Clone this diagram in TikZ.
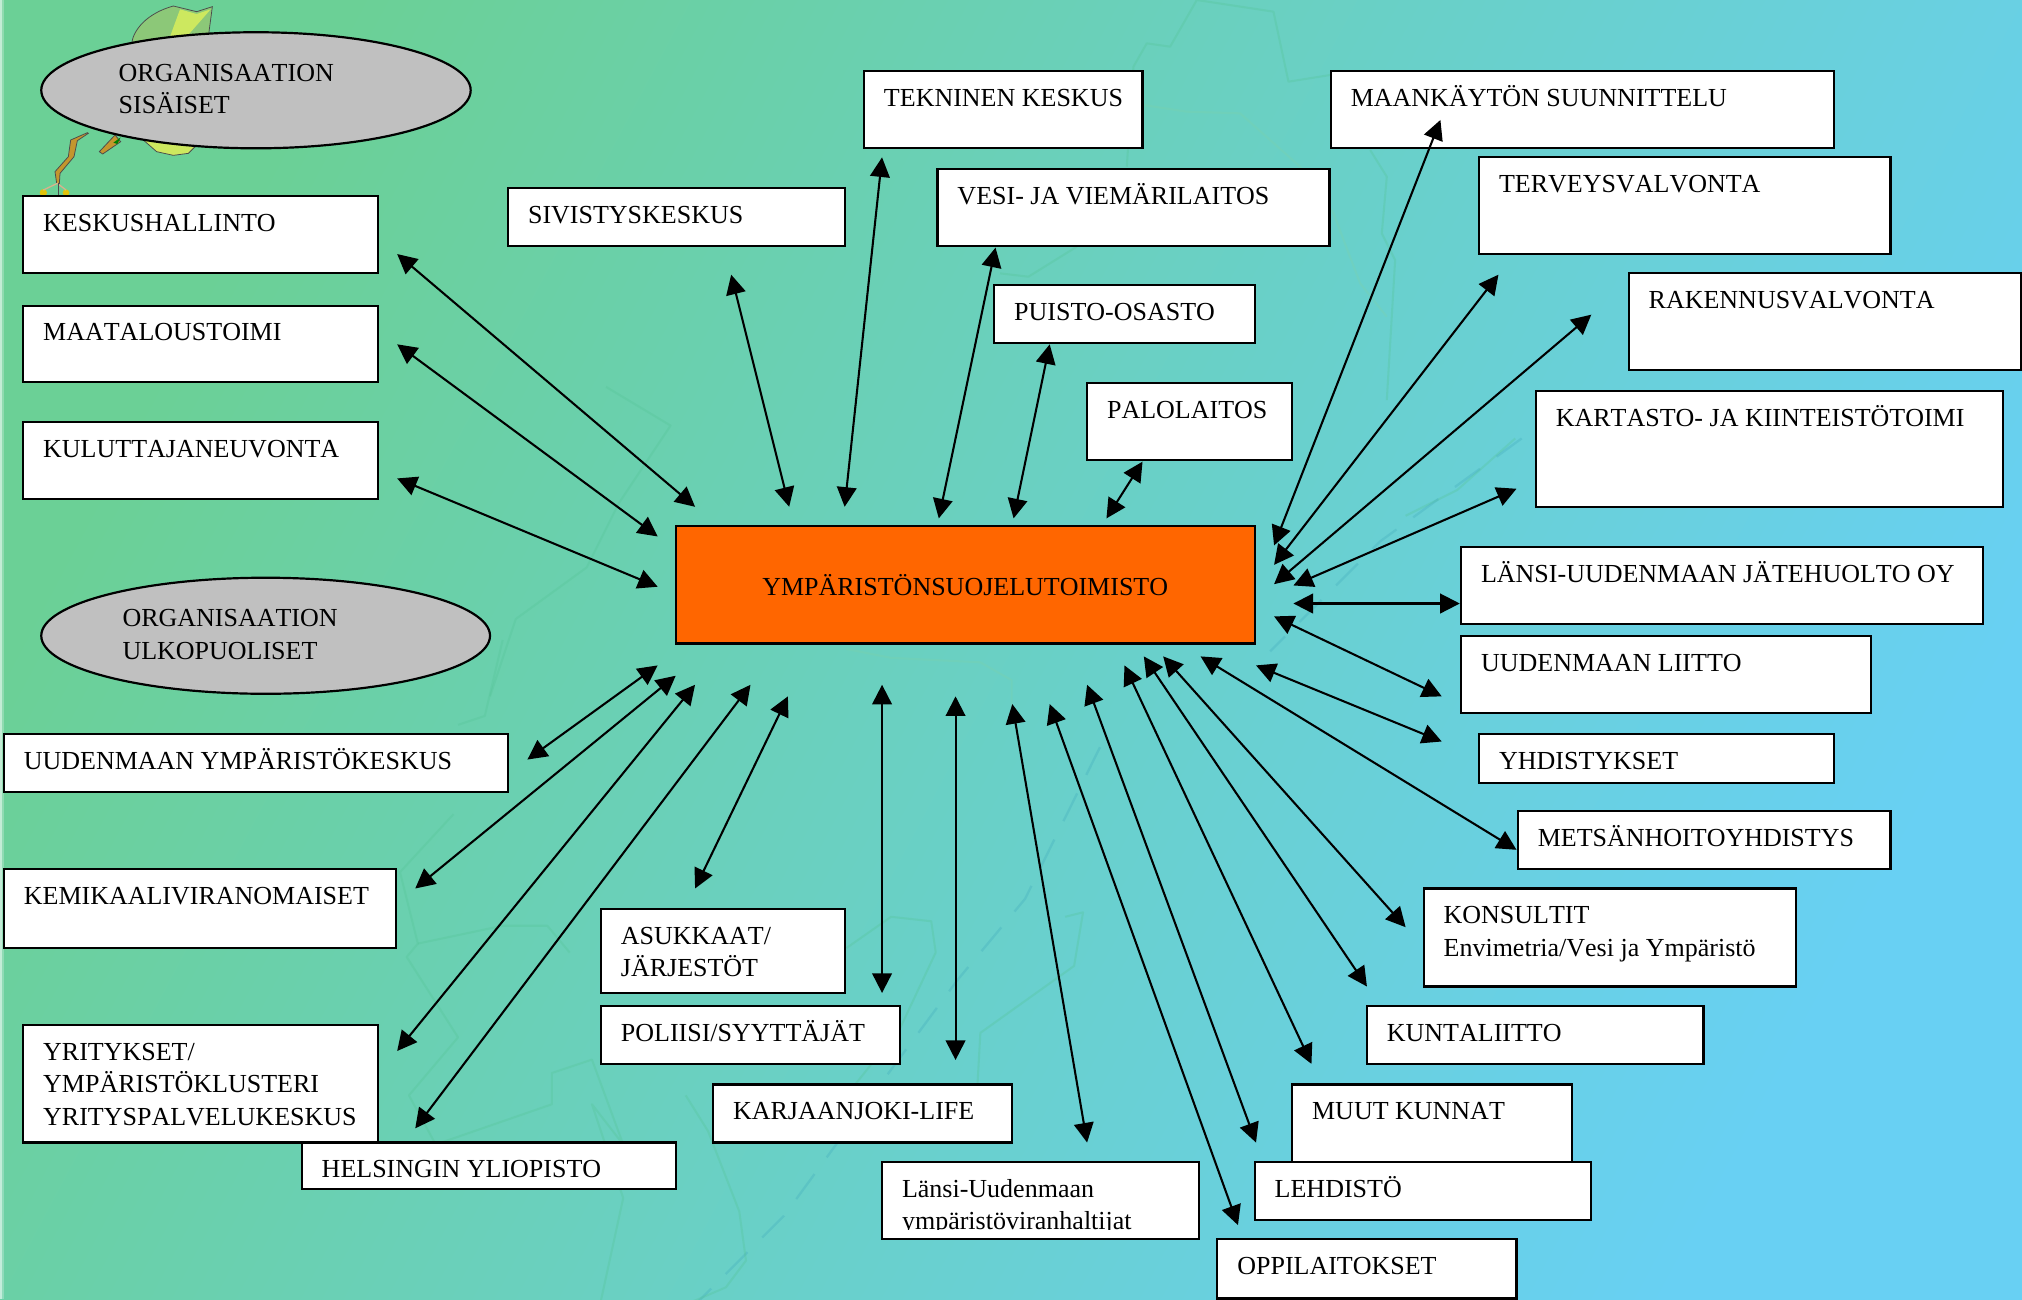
\documentclass[tikz,border=0pt]{standalone}
\usepackage{fontspec}
\setmainfont[Kerning=Off]{Liberation Serif}
\usetikzlibrary{arrows.meta,shapes.geometric}
\definecolor{bgA}{RGB}{107,208,150}
\definecolor{bgB}{RGB}{98,205,195}
\definecolor{bgC}{RGB}{104,208,243}
\definecolor{orangeC}{RGB}{255,102,0}
\definecolor{greyC}{RGB}{192,192,192}
\definecolor{mapA}{RGB}{85,195,150}
\definecolor{mapB}{RGB}{125,210,170}
\definecolor{mapC}{RGB}{70,175,190}
\definecolor{leafA}{RGB}{140,200,120}
\definecolor{leafB}{RGB}{205,232,95}
\definecolor{twigC}{RGB}{195,150,45}
\definecolor{budC}{RGB}{225,195,10}
\tikzset{
  boxs/.style={draw=black,fill=white,line width=0.85pt,rectangle,inner sep=0pt,outer sep=0pt,anchor=north west,font=\fontsize{10.08}{12.5}\selectfont},
  ell/.style={draw=black,fill=greyC,line width=0.85pt,ellipse,inner sep=0pt,outer sep=0pt,font=\fontsize{10.08}{12.5}\selectfont},
  arr/.style={draw=black,line width=0.8pt,{Triangle[length=7.6pt,width=7.6pt]}-{Triangle[length=7.6pt,width=7.6pt]},shorten >=0pt,shorten <=0pt},
  mapl/.style={draw=mapA,line width=0.8pt,opacity=0.3,line join=round},
  mapw/.style={draw=mapB,line width=0.8pt,opacity=0.3,line join=round},
  mapd/.style={draw=mapC,line width=0.9pt,opacity=0.35,dash pattern=on 12pt off 8pt},
}
\newcommand{\bx}[6]{\node[boxs,minimum width=\dimexpr#4pt/2\relax,minimum height=\dimexpr#5pt/2\relax] (#1) at (#2,#3) {\parbox[c][\dimexpr#5pt/2\relax][t]{\dimexpr#4pt/2\relax}{\raggedright\leftskip=7.75pt\rule{0pt}{13.7pt}#6}};}
\newcommand{\lk}[8]{\draw[arr] ([shift={(#3,#4)}]#1.#2) -- ([shift={(#7,#8)}]#5.#6);}
\begin{document}
\begin{tikzpicture}[x=0.5pt,y=-0.5pt]
\useasboundingbox (0,0) rectangle (1568,1007.4);
% background
\shade[left color=bgA,middle color=bgB,right color=bgC,shading angle=62] (0,0) rectangle (1568,1007.4);
\fill[white,opacity=0.6] (0,0) rectangle (1.5,1007.4);
\fill[white,opacity=0.25] (1.5,0) rectangle (3,1007.4);
% faint map, traced at the scale of the zoomed crops
\begin{scope}[x=0.12925pt,y=-0.12925pt,shift={(3000,0)}]
  \draw[mapl] (380,500) -- (400,200) -- (440,130) -- (510,140) -- (590,0) -- (820,35) -- (865,245) -- (990,225);
  \draw[mapl] (1110,450) -- (1160,530) -- (1145,700) -- (1185,780) -- (1160,1200);
  \draw[mapw] (430,315) -- (560,335) -- (720,340) -- (900,500) -- (1000,640) -- (1080,850) -- (1160,950);
  \draw[mapl] (0,820) -- (85,830) -- (230,740);
\end{scope}
\begin{scope}[x=0.17309pt,y=-0.17309pt,shift={(896,1433.6)}]
  \draw[mapl] (120,390) -- (0,520) -- (40,680) -- (15,710) -- (130,890) -- (20,1020) -- (80,1130) -- (340,1040) -- (340,970) -- (430,940) -- (500,1130) -- (430,1040) -- (500,1250) -- (450,1480) -- (500,1568);
  \draw[mapl] (230,0) -- (190,170) -- (130,190);
  \draw[mapl] (40,680) -- (230,640) -- (330,640) -- (380,700);
  \draw[mapd] (1568,240) -- (1400,580) -- (1250,760) -- (1050,1030) -- (860,1290) -- (640,1510) -- (500,1568);
  \draw[mapw] (1000,20) -- (1100,40) -- (1300,50) -- (1370,90) -- (1370,160);
  \draw[mapl] (1000,690) -- (1100,620) -- (1190,630) -- (1200,700) -- (1120,870) -- (1000,1020);
  \draw[mapl] (1490,620) -- (1530,610) -- (1510,730) -- (1300,880) -- (1290,1060);
  \draw[mapl] (640,1020) -- (690,1100) -- (760,1280) -- (775,1390) -- (730,1450) -- (590,1510);
\end{scope}
\draw[mapl] (470,300) -- (520,330) -- (480,390) -- (455,440) -- (400,480) -- (380,540);
\draw[mapl] (1175,340) -- (1130,380) -- (1090,400);
\draw[mapd] (1180,340) -- (1070,420) -- (985,505);
% leaf and twigs behind the first ellipse
\begin{scope}[x=0.12925pt,y=-0.12925pt]
  \filldraw[fill=leafA,draw=black!70,line width=0.3pt] (395,130) .. controls (400,90) and (440,40) .. (520,18) -- (590,35) -- (637,20) -- (625,110) -- cycle;
  \fill[leafB] (560,110) -- (632,28) -- (590,42) -- (540,28) -- (510,110) -- cycle;
  \filldraw[fill=leafB,draw=black!70,line width=0.3pt] (430,420) -- (470,455) -- (520,466) -- (565,460) -- (590,435) -- cycle;
  \filldraw[fill=twigC,draw=black!70,line width=0.3pt] (298,455) -- (345,405) -- (362,425) -- (308,462) -- cycle;
  \fill[green!50!black] (340,428) -- (362,412) -- (352,432) -- cycle;
  \filldraw[fill=twigC,draw=black!70,line width=0.3pt] (265,400) -- (232,422) -- (222,470) -- (180,520) -- (178,552) -- (170,550) -- (165,515) -- (205,470) -- (212,420) -- (262,398) -- cycle;
  \fill[budC] (130,578) circle (11);
  \fill[budC] (198,578) circle (10);
  \draw[brown!60,line width=0.5pt] (130,570) -- (172,550) -- (198,570);
  \draw[black!70,line width=0.4pt] (175,550) -- (175,590);
\end{scope}
% ellipses
\node[ell,minimum width=166.5pt,minimum height=45pt] (esis) at (198.5,70) {\parbox{106.5pt}{ORGANISAATION\\SISÄISET\par\vspace{1pt}}};
\node[ell,minimum width=174pt,minimum height=45pt] (eulk) at (206,493) {\parbox{111pt}{ORGANISAATION\\ULKOPUOLISET\par\vspace{1pt}}};
% centre
\node[draw=black,fill=orangeC,line width=0.85pt,rectangle,inner sep=0pt,outer sep=0pt,minimum width=224.5pt,minimum height=45.5pt,font=\fontsize{10.08}{12.5}\selectfont] (cen) at (748.5,453.5) {YMPÄRISTÖNSUOJELUTOIMISTO};
% boxes
\bx{kes}{18}{152}{275}{60}{KESKUSHALLINTO}
\bx{maa}{18}{237}{275}{59}{MAATALOUSTOIMI}
\bx{kul}{18}{327}{275}{60}{KULUTTAJANEUVONTA}
\bx{siv}{394}{146}{261}{45}{SIVISTYSKESKUS}
\bx{tek}{670}{55}{216}{60}{TEKNINEN KESKUS}
\bx{ves}{727}{131}{304}{60}{VESI- JA VIEMÄRILAITOS}
\bx{pui}{771}{221}{202}{45}{PUISTO-OSASTO}
\bx{pal}{843}{297}{159}{60}{PALOLAITOS}
\bx{maan}{1032}{55}{390}{60}{MAANKÄYTÖN SUUNNITTELU}
\bx{ter}{1147}{122}{319}{75}{TERVEYSVALVONTA}
\bx{rak}{1263}{212}{304}{75}{RAKENNUSVALVONTA}
\bx{kar}{1191}{303}{362}{90}{KARTASTO- JA KIINTEISTÖTOIMI}
\bx{lan}{1133}{424}{405}{60}{LÄNSI-UUDENMAAN JÄTEHUOLTO OY}
\bx{uud}{1133}{493}{318}{60}{UUDENMAAN LIITTO}
\bx{yhd}{1147}{569}{275}{38}{YHDISTYKSET}
\bx{met}{1177}{629}{289}{45}{METSÄNHOITOYHDISTYS}
\bx{kon}{1104}{689}{289}{76}{KONSULTIT\\Envimetria/Vesi ja Ympäristö}
\bx{kun}{1060}{780}{261}{45}{KUNTALIITTO}
\bx{muu}{1002}{841}{217}{60}{MUUT KUNNAT}
\bx{leh}{973}{901}{261}{45}{LEHDISTÖ}
\bx{opp}{944}{961}{232}{46}{OPPILAITOKSET}
\bx{lau}{684}{901}{246}{60}{Länsi-Uudenmaan\\ympäristöviranhaltijat}
\fill[white] (686,953.5) rectangle (928,959.5);
\bx{kri}{553}{841}{232}{45}{KARJAANJOKI-LIFE}
\bx{pol}{466}{780}{232}{45}{POLIISI/SYYTTÄJÄT}
\bx{asu}{466}{705}{189}{65}{ASUKKAAT/\\JÄRJESTÖT}
\bx{yri}{18}{795}{275}{91}{YRITYKSET/\\YMPÄRISTÖKLUSTERI\\YRITYSPALVELUKESKUS}
\bx{hel}{234}{886}{290}{36}{HELSINGIN YLIOPISTO}
\bx{kem}{3}{674}{304}{61}{KEMIKAALIVIRANOMAISET}
\bx{uym}{3}{569}{391}{45}{UUDENMAAN YMPÄRISTÖKESKUS}
% connectors
\lk{kes}{south east}{15}{-15}{cen}{north west}{15}{-15}
\lk{maa}{south east}{15}{-29}{cen}{north west}{-14}{8}
\lk{kul}{south east}{15}{-16}{cen}{south west}{-14}{-44}
\lk{siv}{south}{42.5}{22}{cen}{north west}{88}{-15}
\lk{tek}{south}{-94}{7}{cen}{north west}{131}{-15}
\lk{ves}{south}{-107}{1}{cen}{north west}{204}{-6}
\lk{pui}{south}{-58}{1}{cen}{north east}{-187}{-6}
\lk{pal}{south}{-36.5}{1}{cen}{north east}{-115}{-6}
\lk{maan}{south west}{85}{-22}{cen}{north east}{15}{15}
\lk{ter}{south west}{15}{16}{cen}{north east}{15}{30}
\lk{rak}{south west}{-29}{-43}{cen}{north east}{15}{45}
\lk{kar}{south west}{-15}{-14}{cen}{north east}{30}{46}
\lk{lan}{west}{-1}{14}{cen}{east}{30}{14.5}
\lk{uud}{south west}{-15}{-13}{cen}{south east}{15}{-21}
\lk{yhd}{west}{-29}{-13}{cen}{south east}{1}{17}
\lk{met}{west}{-1}{7.5}{cen}{south east}{-42}{10}
\lk{kon}{west}{-14}{-8}{cen}{south east}{-71}{10}
\lk{kun}{north west}{0}{-15}{cen}{south east}{-86}{10}
\lk{muu}{north west}{15}{-16}{cen}{south east}{-101}{17}
\lk{leh}{north west}{1}{-15}{cen}{south east}{-130}{32}
\lk{opp}{north west}{16}{-11}{cen}{south east}{-159}{47}
\lk{lau}{north}{36}{-15}{cen}{south}{36.5}{47}
\lk{kri}{north}{72}{-19}{cen}{south}{-7.5}{41}
\lk{pol}{north}{102}{-10}{cen}{south}{-64.5}{32}
\lk{asu}{north}{-21.5}{-16}{cen}{south west}{87}{41}
\lk{yri}{north east}{15}{20}{cen}{south west}{15}{32}
\lk{hel}{north}{-57}{-11}{cen}{south west}{58}{32}
\lk{kem}{north east}{15}{15}{cen}{south west}{0}{25}
\lk{uym}{north east}{15}{20}{cen}{south west}{-14}{17}
\end{tikzpicture}
\end{document}
